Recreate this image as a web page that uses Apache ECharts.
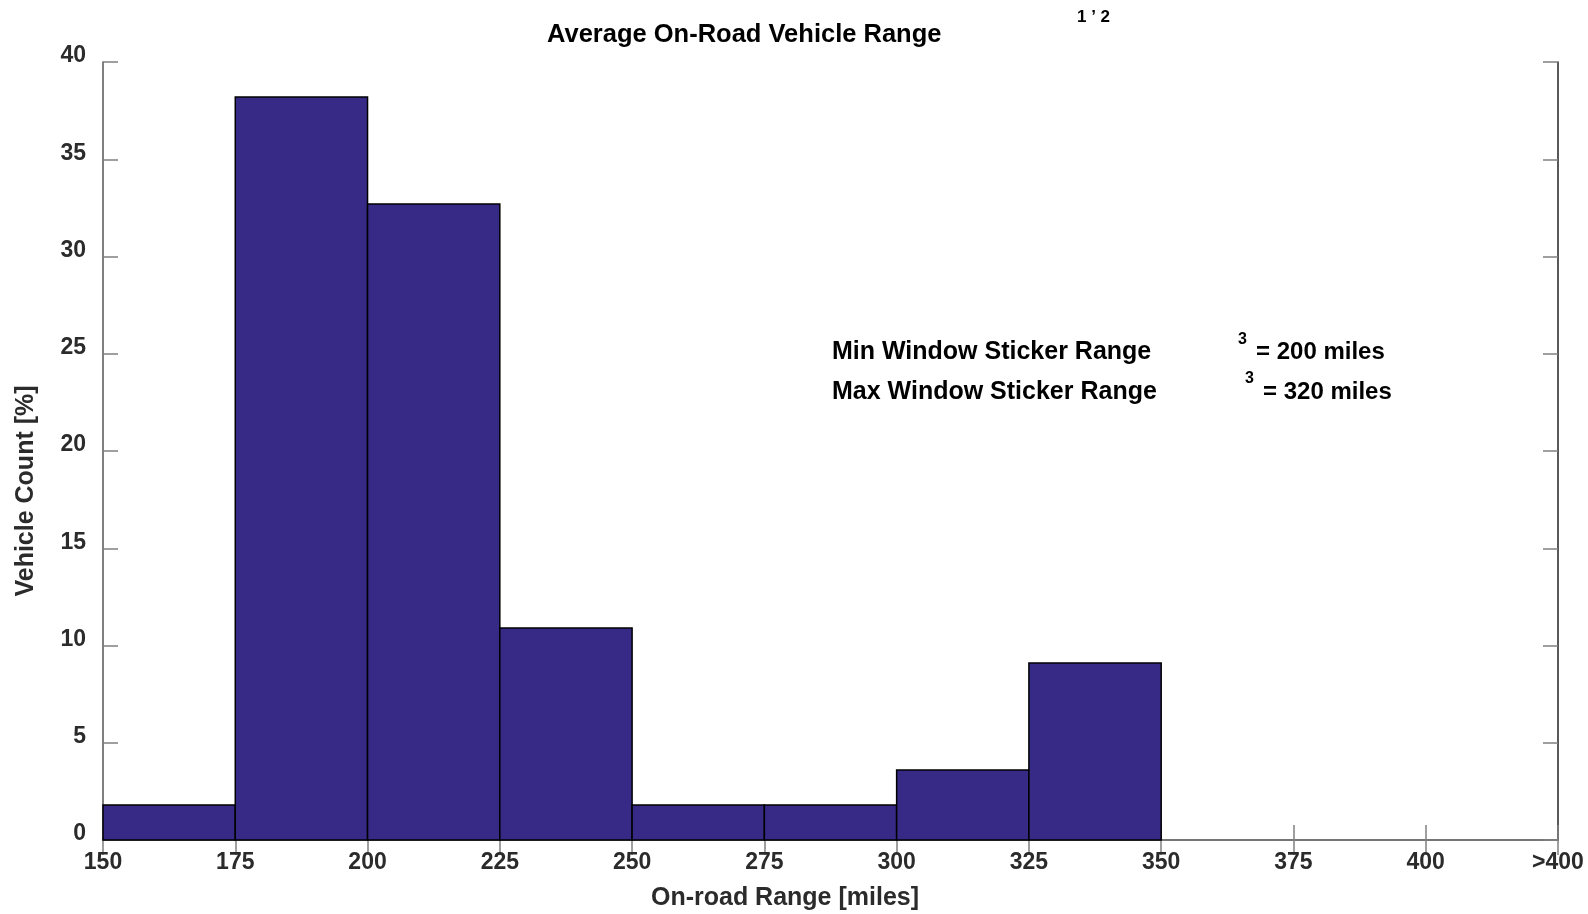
<!DOCTYPE html>
<html>
<head>
<meta charset="utf-8">
<title>Average On-Road Vehicle Range</title>
<script src="https://cdn.jsdelivr.net/npm/echarts@6/dist/echarts.min.js"></script>
<style>
    html, body { margin: 0; padding: 0; background: #fff; }
    #chart { width: 1588px; height: 914px; }
</style>
</head>
<body>
<div id="chart"></div>
<script>
// bins of 25 miles, heights in percent of vehicles
var binStart = [150, 175, 200, 225, 250, 275, 300, 325];
var binEnd = [175, 200, 225, 250, 275, 300, 325, 350];
var vehiclePct = [1.8, 38.2, 32.7, 10.9, 1.8, 1.8, 3.6, 9.1];
var xTickLast = 425; // shown as ">400"

var font = 'Liberation Sans, Arial, sans-serif';
var labelColor = '#2b2b2b';

var histData = [];
for (var i = 0; i < binStart.length; i++) {
    histData.push([binStart[i], binEnd[i], vehiclePct[i]]);
}

var myChart = echarts.init(document.getElementById('chart'));

var tickStyle = { show: true, inside: true, length: 15, lineStyle: { color: '#808080', width: 1.5 } };

var option = {
    animation: false,
    backgroundColor: '#fff',
    grid: { left: 103, top: 62, right: 30, bottom: 74 },
    xAxis: [{
        type: 'value',
        min: 150,
        max: xTickLast,
        interval: 25,
        position: 'bottom',
        axisLine: { show: true, lineStyle: { color: '#222', width: 1.5 } },
        axisTick: tickStyle,
        splitLine: { show: false },
        axisLabel: {
            margin: 11,
            fontFamily: font,
            fontWeight: 'bold',
            fontSize: 23,
            color: labelColor,
            formatter: function (v) { return v === xTickLast ? '>400' : String(v); }
        }
    }, {
        type: 'value',
        min: 150,
        max: xTickLast,
        interval: 25,
        position: 'top',
        axisLine: { show: true, lineStyle: { color: '#808080', width: 1.5 } },
        axisTick: tickStyle,
        axisLabel: { show: false },
        splitLine: { show: false }
    }],
    yAxis: [{
        type: 'value',
        min: 0,
        max: 40,
        interval: 5,
        position: 'left',
        axisLine: { show: true, lineStyle: { color: '#555', width: 1.5 } },
        axisTick: tickStyle,
        splitLine: { show: false },
        axisLabel: {
            margin: 17,
            fontFamily: font,
            fontWeight: 'bold',
            fontSize: 23,
            color: labelColor,
            verticalAlign: 'bottom',
            lineHeight: 12
        }
    }, {
        type: 'value',
        min: 0,
        max: 40,
        interval: 5,
        position: 'right',
        axisLine: { show: true, lineStyle: { color: '#222', width: 1.5 } },
        axisTick: tickStyle,
        axisLabel: { show: false },
        splitLine: { show: false }
    }],
    graphic: [
        // titre + exposant
        { type: 'text', x: 547, y: 35, style: { text: 'Average On-Road Vehicle Range', font: 'bold 25.5px ' + font, fill: '#000', textVerticalAlign: 'middle' } },
        { type: 'text', x: 1077, y: 17, style: { text: '1 \u2019 2', font: 'bold 17px ' + font, fill: '#000', textVerticalAlign: 'middle' } },
        // noms des axes
        { type: 'text', x: 785, y: 898, style: { text: 'On-road Range [miles]', font: 'bold 25px ' + font, fill: labelColor, textAlign: 'center', textVerticalAlign: 'middle' } },
        { type: 'text', x: 26, y: 491, rotation: Math.PI / 2, style: { text: 'Vehicle Count [%]', font: 'bold 25px ' + font, fill: labelColor, textAlign: 'center', textVerticalAlign: 'middle' } },
        // annotations
        { type: 'text', x: 832, y: 352, style: { text: 'Min Window Sticker Range', font: 'bold 25px ' + font, fill: '#000', textVerticalAlign: 'middle' } },
        { type: 'text', x: 1238, y: 340, style: { text: '3', font: 'bold 16px ' + font, fill: '#000', textVerticalAlign: 'middle' } },
        { type: 'text', x: 1256, y: 352, style: { text: '= 200 miles', font: 'bold 24px ' + font, fill: '#000', textVerticalAlign: 'middle' } },
        { type: 'text', x: 832, y: 392, style: { text: 'Max Window Sticker Range', font: 'bold 25px ' + font, fill: '#000', textVerticalAlign: 'middle' } },
        { type: 'text', x: 1245, y: 379, style: { text: '3', font: 'bold 16px ' + font, fill: '#000', textVerticalAlign: 'middle' } },
        { type: 'text', x: 1263, y: 392, style: { text: '= 320 miles', font: 'bold 24px ' + font, fill: '#000', textVerticalAlign: 'middle' } }
    ],
    series: [{
        name: 'Vehicle Count',
        type: 'custom',
        xAxisIndex: 0,
        yAxisIndex: 0,
        encode: { x: [0, 1], y: 2 },
        data: histData,
        renderItem: function (params, api) {
            var p0 = api.coord([api.value(0), api.value(2)]);
            var p1 = api.coord([api.value(1), 0]);
            return {
                type: 'rect',
                shape: { x: p0[0], y: p0[1], width: p1[0] - p0[0], height: p1[1] - p0[1] },
                style: { fill: '#362a86', stroke: '#000', lineWidth: 1.5 }
            };
        }
    }]
};
myChart.setOption(option);
</script>
</body>
</html>
